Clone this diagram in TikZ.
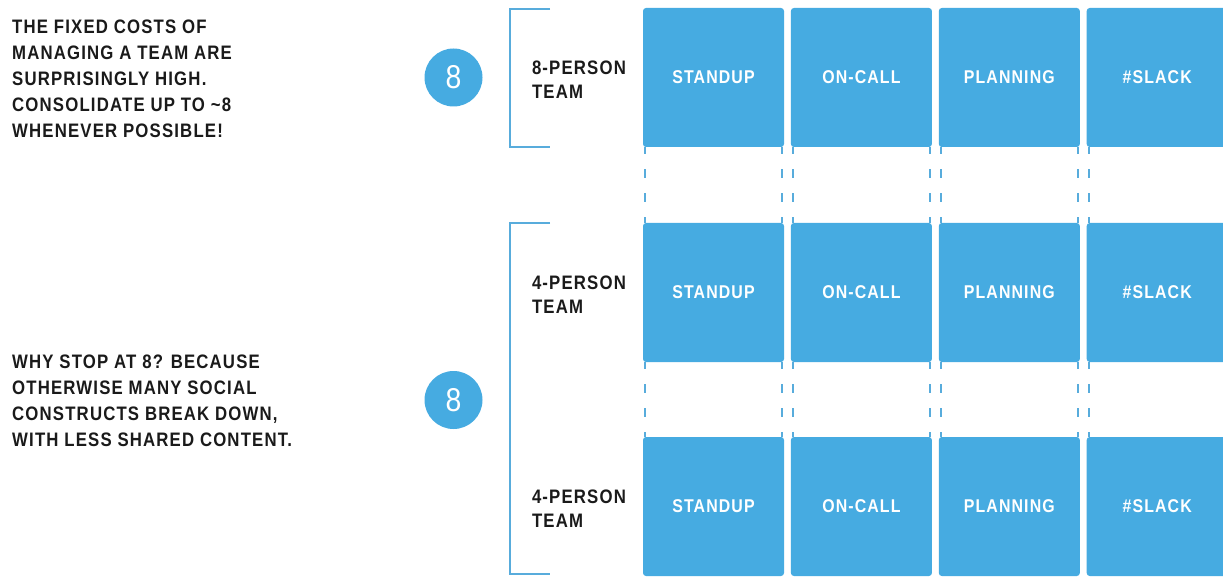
\documentclass[tikz,border=0pt]{standalone}
\usepackage{fontspec}
\setmainfont{Liberation Sans}[FakeStretch=0.86, LetterSpace=6]
\usetikzlibrary{chains, positioning}
\definecolor{teamblue}{RGB}{70,171,225}
\definecolor{rulerblue}{RGB}{88,172,220}
\definecolor{inkgray}{RGB}{26,26,26}
\tikzset{TeamGrid/.style={
    x = 1pt, y = -1pt,
    node distance = 6.5pt,
    base/.style = {fill=teamblue, rounded corners=3pt, minimum width=141pt, minimum height=139pt,
        inner sep=0pt, text=white, font=\bfseries\fontsize{18.5}{22}\selectfont},
    task/.style = {base, on chain},
    bracket/.style = {draw=rulerblue, line width=2.5pt},
    link/.style = {draw=rulerblue, line width=2pt, dash pattern=on 9pt off 15pt, dash phase=2pt},
    badge/.style = {circle, fill=teamblue, minimum size=58pt, inner sep=0pt, text=white,
        font=\fontsize{33}{33}\selectfont},
    team/.style = {text=inkgray, align=left, anchor=west, inner sep=0pt,
        font=\bfseries\fontsize{19.5}{24}\selectfont},
    note/.style = {text=inkgray, align=left, anchor=north west, inner sep=0pt,
        font=\bfseries\fontsize{19.5}{26}\selectfont}
}}

\begin{document}
\begin{tikzpicture}[TeamGrid]
        \useasboundingbox (0,0) rectangle (1223,577);

        % one chain of meetings per team
        \begin{scope}[start chain=A going right]
            \node [task] at (713.5,77.5) {STANDUP};
            \node [task] {ON-CALL};
            \node [task] {PLANNING};
            \node [task] {\#SLACK};
        \end{scope}
        \begin{scope}[start chain=B going right]
            \node [task] at (713.5,292.5) {STANDUP};
            \node [task] {ON-CALL};
            \node [task] {PLANNING};
            \node [task] {\#SLACK};
        \end{scope}
        \begin{scope}[start chain=C going right]
            \node [task] at (713.5,506.5) {STANDUP};
            \node [task] {ON-CALL};
            \node [task] {PLANNING};
            \node [task] {\#SLACK};
        \end{scope}

        % dashed guides between the rows
        \foreach \up/\dn in {A/B, B/C}
            \foreach \i in {1,...,4} {
                \draw [link] ([xshift=2pt]\up-\i.south west) -- ([xshift=2pt]\dn-\i.north west);
                \draw [link] ([xshift=-2pt]\up-\i.south east) -- ([xshift=-2pt]\dn-\i.north east);
            }

        % team names
        \node [team] (team-A) at ([xshift=-111pt, yshift=-2pt]A-1.west) {8-PERSON\\TEAM};
        \node [team] (team-B) at ([xshift=-111pt, yshift=-2pt]B-1.west) {4-PERSON\\TEAM};
        \node [team] (team-C) at ([xshift=-111pt, yshift=-2pt]C-1.west) {4-PERSON\\TEAM};

        % brackets
        \draw [bracket] (550,9) -- (510,9) -- (510,147) -- (550,147);
        \draw [bracket] (550,223) -- (510,223) -- (510,574) -- (550,574);

        \node [badge] (size-A) at (453.5,77.5) {8};
        \node [badge] (size-BC) at (453.5,400) {8};

        % side notes
        \node [note] (cost) at (12,20) {THE FIXED COSTS OF\\MANAGING A TEAM ARE\\SURPRISINGLY HIGH.\\CONSOLIDATE UP TO \textasciitilde8\\WHENEVER POSSIBLE!};
        \node [note] (why) at (12,355) {WHY STOP AT 8? BECAUSE\\OTHERWISE MANY SOCIAL\\CONSTRUCTS BREAK DOWN,\\WITH LESS SHARED CONTENT.};
    \end{tikzpicture}
\end{document}
